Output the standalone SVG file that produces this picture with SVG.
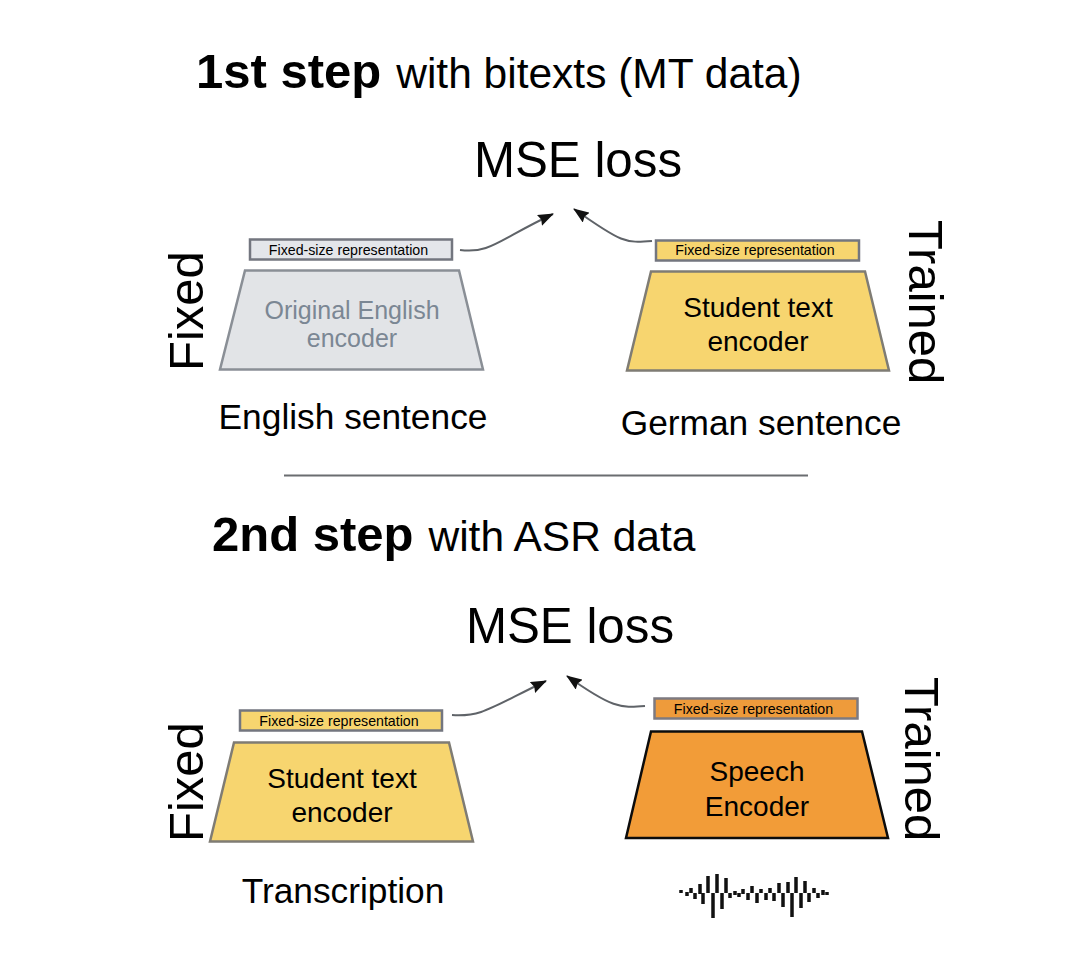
<svg xmlns="http://www.w3.org/2000/svg" width="1092" height="962" viewBox="0 0 1092 962">
<style>
text{font-family:"Liberation Sans",Arial,sans-serif;fill:#000}
.m{text-anchor:middle}
.b{font-weight:bold;font-size:49px}
.l{font-size:49.300px}
.s{font-size:35.300px}
.e{font-size:28px}
.g{font-size:25px;fill:#7b8794}
.r{font-size:14.200px}
.w{font-size:42.500px}
.side{font-size:49px}
.box{stroke:#73767f;stroke-width:2.5}
.tr{stroke-width:2.5;stroke-linejoin:miter}
.wire{fill:none;stroke:#5f6368;stroke-width:2}
.grey{fill:#e2e4e7;stroke:#8a8f96}
.yel{fill:#f7d56f;stroke:#7f7c74}
.org{fill:#f29c38}
</style>
<defs><marker id="a" markerUnits="userSpaceOnUse" markerWidth="16" markerHeight="12" refX="15" refY="6" orient="auto"><path d="M0 0L16 6L0 12L2 6Z" fill="#111"/></marker></defs>
<g id="title-1"><text x="196" y="88"><tspan class="b">1st step</tspan><tspan class="w" dx="15">with bitexts (MT data)</tspan></text></g>
<g id="loss-1"><text class="l m" x="578" y="177">MSE loss</text></g>
<g id="connectors">
<path class="wire" marker-end="url(#a)" d="M460 250C490 254 498 240 553 214"/>
<path class="wire" marker-end="url(#a)" d="M652 241C625 243 622 243 574 209"/>
<path class="wire" marker-end="url(#a)" d="M452 715C482 717 490 708 546 681"/>
<path class="wire" marker-end="url(#a)" d="M645 706C620 708 612 708 567 676"/>
<line x1="284" y1="475.500" x2="808" y2="475.500" stroke="#6a6d70" stroke-width="2"/>
</g>
<g id="enc-original">
<rect class="box" x="250" y="239.500" width="202" height="20" fill="#e4e6ea"/>
<text class="r m" x="348.500" y="255">Fixed-size representation</text>
<path class="tr grey" d="M245 270.500H459L483 369.500H220Z"/>
<text class="g m" x="352" y="319">Original English</text>
<text class="g m" x="352" y="347">encoder</text>
</g>
<g id="enc-student-1">
<rect class="box" x="656" y="240.500" width="203" height="20" fill="#f7d56f"/>
<text class="r m" x="755" y="255">Fixed-size representation</text>
<path class="tr yel" d="M651 271.500H865L889 370.500H627Z"/>
<text class="e m" x="758" y="317">Student text</text>
<text class="e m" x="758" y="351">encoder</text>
</g>
<g id="label-fixed-1"><text class="side" transform="translate(203 371) rotate(-90)">Fixed</text></g>
<g id="label-trained-1"><text class="side" transform="translate(909 220) rotate(90)">Trained</text></g>
<g id="input-en"><text class="s m" x="353" y="429">English sentence</text></g>
<g id="input-de"><text class="s m" x="761" y="435">German sentence</text></g>
<g id="title-2"><text x="212" y="551"><tspan class="b">2nd step</tspan><tspan class="w" dx="15">with ASR data</tspan></text></g>
<g id="loss-2"><text class="l m" x="570" y="643">MSE loss</text></g>
<g id="enc-student-2">
<rect class="box" x="240" y="710.500" width="202" height="20" fill="#f7d56f"/>
<text class="r m" x="339" y="726">Fixed-size representation</text>
<path class="tr yel" d="M234 742.500H449L473 841.500H210Z"/>
<text class="e m" x="342" y="788">Student text</text>
<text class="e m" x="342" y="822">encoder</text>
</g>
<g id="enc-speech">
<rect x="654.500" y="698.500" width="203" height="20" fill="#ee9b3b" stroke="#7d7a80" stroke-width="2.500"/>
<text class="r m" x="753.500" y="714">Fixed-size representation</text>
<path class="tr org" stroke="#0c0c0c" d="M651 731.500H862L888 838H626Z"/>
<text class="e m" x="757" y="781">Speech</text>
<text class="e m" x="757" y="816">Encoder</text>
</g>
<g id="label-fixed-2"><text class="side" transform="translate(203 842) rotate(-90)">Fixed</text></g>
<g id="label-trained-2"><text class="side" transform="translate(905 677) rotate(90)">Trained</text></g>
<g id="input-tr"><text class="s m" x="343" y="903">Transcription</text></g>
<g id="waveform"><path fill="none" stroke="#111" stroke-width="3.500" d="M681 890V893M687 892V896M691 888V893M695 893V899M700 884V894M703 893V904M708 876V893M713 893V918M717 874V893M722 893V909M726 878V893M730 893V898M735 891V895M739 893V897M743 889V894M748 893V900M752 886V893M757 893V903M761 889V893M766 893V900M770 888V893M774 893V901M779 883V893M783 893V907M788 882V893M792 893V917M796 877V893M801 893V908M805 881V893M809 893V902M814 888V893M818 893V898M823 890V895M827 892V895"/></g>
</svg>
